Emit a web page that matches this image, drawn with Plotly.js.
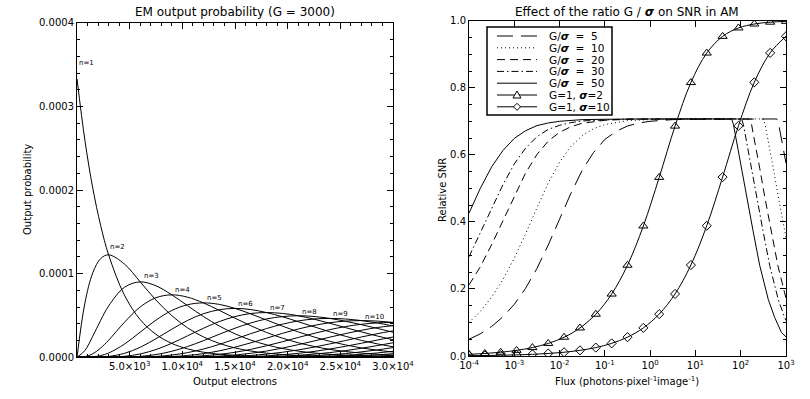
<!DOCTYPE html>
<html>
<head>
<meta charset="utf-8">
<script src="https://cdn.plot.ly/plotly-3.0.1.min.js"></script>
<style>
  html, body { margin: 0; padding: 0; background: #fff; }
  #chart { width: 810px; height: 399px; }
</style>
</head>
<body>
<div id="chart"></div>
<script>
// ---------------- LEFT PANEL DATA: EM output probability (G = 3000) ----------------
// Output electrons sampled along the x axis
const outputElectrons = [0,750,1500,2250,3000,4500,6000,7500,9000,10500,12000,13500,15000,16500,18000,19500,21000,22500,24000,25500,27000,28500,30000];
// Output probability of each curve, in units of 1e-4
const PROB_UNIT = 1e-4;
const prob_n1  = [3.333,2.596,2.022,1.575,1.226,0.744,0.451,0.274,0.166,0.101,0.061,0.037,0.022,0.014,0.008,0.005,0.003,0.002,0.001,0.001,0,0,0];
const prob_n2  = [0,0.649,1.011,1.181,1.226,1.116,0.902,0.684,0.498,0.352,0.244,0.167,0.112,0.075,0.050,0.033,0.021,0.014,0.009,0.006,0.004,0.002,0.002];
const prob_n3  = [0,0.081,0.253,0.443,0.613,0.837,0.902,0.855,0.747,0.617,0.488,0.375,0.281,0.206,0.149,0.106,0.074,0.052,0.036,0.025,0.017,0.011,0.008];
const prob_n4  = [0,0.007,0.042,0.111,0.204,0.418,0.602,0.713,0.747,0.719,0.651,0.562,0.468,0.378,0.297,0.229,0.174,0.130,0.095,0.069,0.050,0.036,0.025];
const prob_n5  = [0,0,0.005,0.021,0.051,0.157,0.301,0.445,0.560,0.629,0.651,0.633,0.585,0.519,0.446,0.373,0.304,0.243,0.191,0.148,0.112,0.085,0.063];
const prob_n6  = [0,0,0.001,0.003,0.010,0.047,0.120,0.223,0.336,0.441,0.521,0.569,0.585,0.571,0.535,0.485,0.426,0.365,0.305,0.251,0.202,0.161,0.126];
const prob_n7  = [0,0,0,0,0.002,0.012,0.040,0.093,0.168,0.257,0.347,0.427,0.487,0.524,0.535,0.525,0.497,0.456,0.407,0.355,0.304,0.255,0.210];
const prob_n8  = [0,0,0,0,0,0.003,0.011,0.033,0.072,0.129,0.199,0.275,0.348,0.411,0.459,0.487,0.497,0.488,0.465,0.431,0.390,0.346,0.300];
const prob_n9  = [0,0,0,0,0,0,0.003,0.010,0.027,0.056,0.099,0.154,0.218,0.283,0.344,0.396,0.435,0.458,0.465,0.458,0.439,0.411,0.375];
const prob_n10 = [0,0,0,0,0,0,0.001,0.003,0.009,0.022,0.044,0.077,0.121,0.173,0.229,0.286,0.338,0.381,0.414,0.433,0.439,0.433,0.417];
const prob_n11 = [0,0,0,0,0,0,0,0.001,0.003,0.008,0.018,0.035,0.060,0.095,0.138,0.186,0.237,0.286,0.331,0.368,0.395,0.412,0.417];
const prob_n12 = [0,0,0,0,0,0,0,0,0.001,0.002,0.006,0.014,0.027,0.048,0.075,0.110,0.151,0.195,0.241,0.284,0.323,0.356,0.379];
const prob_n13 = [0,0,0,0,0,0,0,0,0,0.001,0.002,0.005,0.011,0.022,0.038,0.060,0.088,0.122,0.160,0.201,0.243,0.282,0.316];
const prob_n14 = [0,0,0,0,0,0,0,0,0,0,0.001,0.002,0.004,0.009,0.017,0.030,0.047,0.070,0.099,0.132,0.168,0.206,0.243];
const prob_n15 = [0,0,0,0,0,0,0,0,0,0,0,0.001,0.002,0.004,0.007,0.014,0.024,0.038,0.056,0.080,0.108,0.140,0.174];
const prob_n16 = [0,0,0,0,0,0,0,0,0,0,0,0,0.001,0.001,0.003,0.006,0.011,0.019,0.030,0.045,0.065,0.088,0.116];
const prob_n17 = [0,0,0,0,0,0,0,0,0,0,0,0,0,0,0.001,0.002,0.005,0.009,0.015,0.024,0.036,0.052,0.072];
const prob_n18 = [0,0,0,0,0,0,0,0,0,0,0,0,0,0,0,0.001,0.002,0.004,0.007,0.012,0.019,0.029,0.043];
const prob_n19 = [0,0,0,0,0,0,0,0,0,0,0,0,0,0,0,0,0.001,0.002,0.003,0.006,0.010,0.015,0.024];
const prob_n20 = [0,0,0,0,0,0,0,0,0,0,0,0,0,0,0,0,0,0.001,0.001,0.003,0.005,0.008,0.012];
const probCurves = [prob_n1,prob_n2,prob_n3,prob_n4,prob_n5,prob_n6,prob_n7,prob_n8,prob_n9,prob_n10,
                    prob_n11,prob_n12,prob_n13,prob_n14,prob_n15,prob_n16,prob_n17,prob_n18,prob_n19,prob_n20];
// curve labels
const curveLabels = ['n=1','n=2','n=3','n=4','n=5','n=6','n=7','n=8','n=9','n=10'];
const curveLabelX = [900,3800,7030,10020,13050,16020,19040,22030,25060,28200];
const curveLabelY = [3.52,1.32,0.972,0.805,0.706,0.638,0.586,0.545,0.518,0.486];
const leftXTickVals = [5000,10000,15000,20000,25000,30000];
const leftXTickText = ['5.0\u00d710<sup>3</sup>','1.0\u00d710<sup>4</sup>','1.5\u00d710<sup>4</sup>','2.0\u00d710<sup>4</sup>','2.5\u00d710<sup>4</sup>','3.0\u00d710<sup>4</sup>'];

// ---------------- RIGHT PANEL DATA: relative SNR vs flux ----------------
// flux given as log10(photons/pixel/image)
const logFlux_r5  = [-4,-3.75,-3.5,-3.25,-3,-2.75,-2.5,-2.25,-2,-1.75,-1.5,-1.25,-1,-0.75,-0.5,-0.25,0,0.5,1,2.80,2.84,2.88,2.95,3.0];
const snr_r5      = [0.050,0.066,0.088,0.117,0.154,0.202,0.261,0.331,0.408,0.485,0.554,0.607,0.646,0.670,0.686,0.695,0.700,0.705,0.706,0.707,0.690,0.660,0.612,0.575];
const logFlux_r10 = [-4,-3.75,-3.5,-3.25,-3,-2.75,-2.5,-2.25,-2,-1.75,-1.5,-1.25,-1,-0.75,-0.5,0,0.5,1,2.50,2.54,2.58,2.65,2.72,2.83,2.97,3.0];
const snr_r10     = [0.100,0.133,0.176,0.228,0.292,0.364,0.442,0.516,0.578,0.625,0.657,0.678,0.690,0.697,0.702,0.705,0.707,0.707,0.707,0.690,0.660,0.612,0.560,0.475,0.375,0.353];
const logFlux_r20 = [-4,-3.75,-3.5,-3.25,-3,-2.75,-2.5,-2.25,-2,-1.75,-1.5,-1.25,-1,-0.5,0,1,2.20,2.24,2.28,2.35,2.42,2.53,2.67,2.82,3.0];
const snr_r20     = [0.212,0.266,0.332,0.404,0.478,0.546,0.601,0.641,0.667,0.684,0.694,0.699,0.703,0.706,0.707,0.707,0.707,0.690,0.660,0.612,0.560,0.475,0.375,0.270,0.172];
const logFlux_r30 = [-4,-3.75,-3.5,-3.25,-3,-2.75,-2.5,-2.25,-2,-1.75,-1.5,-1,-0.5,0,1,2.02,2.06,2.10,2.17,2.24,2.35,2.49,2.64,2.83,2.97,3.0];
const snr_r30     = [0.296,0.366,0.440,0.511,0.573,0.620,0.654,0.676,0.688,0.696,0.701,0.705,0.707,0.707,0.707,0.707,0.690,0.660,0.612,0.560,0.475,0.375,0.270,0.168,0.115,0.106];
const logFlux_r50 = [-4,-3.75,-3.5,-3.25,-3,-2.75,-2.5,-2.25,-2,-1.5,-1,-0.5,0,1,1.80,1.84,1.88,1.95,2.02,2.13,2.27,2.42,2.61,2.75,2.90,3.0];
const snr_r50     = [0.426,0.500,0.564,0.613,0.649,0.672,0.687,0.695,0.700,0.705,0.706,0.707,0.707,0.707,0.707,0.690,0.660,0.612,0.560,0.475,0.375,0.270,0.168,0.115,0.070,0.057];
// G=1 curves (marked points)
const logFlux_g1 = [-4,-3.65,-3.3,-2.95,-2.6,-2.25,-1.9,-1.55,-1.2,-0.85,-0.5,-0.15,0.2,0.55,0.9,1.25,1.6,1.95,2.3,2.65,3.0];
const snr_g1_s2  = [0.0050,0.0075,0.0112,0.0168,0.0251,0.0375,0.0560,0.0836,0.1246,0.1847,0.2707,0.3878,0.5327,0.6856,0.8155,0.9035,0.9533,0.9783,0.9901,0.9956,0.9980];
const snr_g1_s10 = [0.0010,0.0015,0.0022,0.0034,0.0050,0.0075,0.0112,0.0168,0.0251,0.0376,0.0562,0.0838,0.1249,0.1851,0.2713,0.3885,0.5336,0.6865,0.8162,0.9039,0.9535];
const legendLabels = ['G/<b><i>\u03c3</i></b>\u00a0\u00a0=\u00a0\u00a05','G/<b><i>\u03c3</i></b>\u00a0\u00a0=\u00a0\u00a010','G/<b><i>\u03c3</i></b>\u00a0\u00a0=\u00a0\u00a020','G/<b><i>\u03c3</i></b>\u00a0\u00a0=\u00a0\u00a030','G/<b><i>\u03c3</i></b>\u00a0\u00a0=\u00a0\u00a050','G=1,\u00a0<b><i>\u03c3</i></b>=2','G=1,\u00a0<b><i>\u03c3</i></b>=10'];
const rightXTickVals = [1e-4,1e-3,1e-2,1e-1,1,10,100,1000];
const rightXTickText = ['10<sup>-4</sup>','10<sup>-3</sup>','10<sup>-2</sup>','10<sup>-1</sup>','10<sup>0</sup>','10<sup>1</sup>','10<sup>2</sup>','10<sup>3</sup>'];

// ---------------- BUILD ----------------
const FONT = 'DejaVu Sans, Liberation Sans, Arial, sans-serif';
const W = 810, H = 399;
const px = v => v / W;          // pixel -> paper x
const py = v => 1 - v / H;      // pixel -> paper y
const toFlux = arr => arr.map(v => Math.pow(10, v));

const traces = [];
probCurves.forEach(curve => {
  traces.push({
    type: 'scatter', mode: 'lines', xaxis: 'x', yaxis: 'y',
    x: outputElectrons, y: curve.map(v => v * PROB_UNIT),
    line: {color: '#000', width: 1, shape: 'spline', smoothing: 1},
    hoverinfo: 'skip'
  });
});

const emStyles = [
  {x: logFlux_r5,  y: snr_r5,  dash: '16px,8px'},
  {x: logFlux_r10, y: snr_r10, dash: '1px,3px'},
  {x: logFlux_r20, y: snr_r20, dash: '8px,5px'},
  {x: logFlux_r30, y: snr_r30, dash: '7px,3px,1.5px,3px'},
  {x: logFlux_r50, y: snr_r50, dash: 'solid'}
];
emStyles.forEach(s => {
  traces.push({
    type: 'scatter', mode: 'lines', xaxis: 'x2', yaxis: 'y2',
    x: toFlux(s.x), y: s.y,
    line: {color: '#000', width: 1, dash: s.dash},
    hoverinfo: 'skip'
  });
});
traces.push({
  type: 'scatter', mode: 'lines+markers', xaxis: 'x2', yaxis: 'y2',
  x: toFlux(logFlux_g1), y: snr_g1_s2,
  line: {color: '#000', width: 1, shape: 'spline'},
  marker: {symbol: 'triangle-up-open', size: 8, color: '#000', line: {width: 1, color: '#000'}},
  hoverinfo: 'skip'
});
traces.push({
  type: 'scatter', mode: 'lines+markers', xaxis: 'x2', yaxis: 'y2',
  x: toFlux(logFlux_g1), y: snr_g1_s10,
  line: {color: '#000', width: 1, shape: 'spline'},
  marker: {symbol: 'diamond-open', size: 7, color: '#000', line: {width: 1, color: '#000'}},
  hoverinfo: 'skip'
});

const axisBase = {
  showline: true, linecolor: '#000', linewidth: 1, mirror: 'allticks',
  ticks: 'inside', ticklen: 6, tickwidth: 1, tickcolor: '#000',
  showgrid: false, zeroline: false,
  tickfont: {family: FONT, size: 10, color: '#000'}
};
const minorBase = {ticks: 'inside', ticklen: 3, tickwidth: 1, tickcolor: '#000', showgrid: false};

const annotations = [];
curveLabels.forEach((t, i) => {
  annotations.push({xref: 'x', yref: 'y', x: curveLabelX[i], y: curveLabelY[i] * PROB_UNIT,
    text: t, showarrow: false, font: {family: FONT, size: 7, color: '#000'}, xanchor: 'center', yanchor: 'middle'});
});
const txt = (x, y, text, size, opts) => Object.assign({xref: 'paper', yref: 'paper', x: px(x), y: py(y), text: text,
  showarrow: false, font: {family: FONT, size: size, color: '#000'}, xanchor: 'center', yanchor: 'middle'}, opts || {});
annotations.push(txt(235, 12, 'EM output probability (G = 3000)', 12));
annotations.push(txt(627, 12, 'Effect of the ratio G / <b><i>\u03c3</i></b> on SNR in AM', 12));
annotations.push(txt(235, 381, 'Output electrons', 10));
annotations.push(txt(627, 381, 'Flux (photons\u00b7pixel<sup>-1</sup>image<sup>-1</sup>)', 10));
annotations.push(txt(27, 190, 'Output probability', 10, {textangle: -90}));
annotations.push(txt(442, 190, 'Relative SNR', 10, {textangle: -90}));

// manual legend (right panel)
const legTop = 36, legStep = 11.8, legX0 = 497, legX1 = 537, legTxt = 547;
const shapes = [{type: 'rect', xref: 'paper', yref: 'paper', x0: px(487), x1: px(612), y0: py(27), y1: py(115),
  line: {color: '#000', width: 1.5}, fillcolor: '#fff', layer: 'above'}];
const legDashes = ['16px,8px', '1px,3px', '8px,5px', '7px,3px,1.5px,3px', 'solid', 'solid', 'solid'];
legendLabels.forEach((lab, i) => {
  const yy = legTop + i * legStep;
  shapes.push({type: 'line', xref: 'paper', yref: 'paper', x0: px(legX0), x1: px(legX1), y0: py(yy), y1: py(yy),
    line: {color: '#000', width: 1, dash: legDashes[i]}, layer: 'above'});
  annotations.push(txt(legTxt, yy, lab, 10.5, {xanchor: 'left'}));
});
const midX = (legX0 + legX1) / 2;
shapes.push({type: 'path', xref: 'paper', yref: 'paper', xsizemode: 'pixel', ysizemode: 'pixel',
  xanchor: px(midX), yanchor: py(legTop + 5 * legStep), path: 'M-4,-3L4,-3L0,4Z',
  line: {color: '#000', width: 1}, fillcolor: '#fff', layer: 'above'});
shapes.push({type: 'path', xref: 'paper', yref: 'paper', xsizemode: 'pixel', ysizemode: 'pixel',
  xanchor: px(midX), yanchor: py(legTop + 6 * legStep), path: 'M-3.5,0L0,3.5L3.5,0L0,-3.5Z',
  line: {color: '#000', width: 1}, fillcolor: '#fff', layer: 'above'});

const layout = {
  width: W, height: H,
  margin: {l: 0, r: 0, t: 0, b: 0, pad: 0},
  paper_bgcolor: '#fff', plot_bgcolor: '#fff',
  showlegend: false,
  font: {family: FONT, color: '#000'},
  xaxis: Object.assign({}, axisBase, {
    domain: [px(77), px(393)], anchor: 'y', range: [0, 30000],
    tickmode: 'array', tickvals: leftXTickVals, ticktext: leftXTickText,
    minor: Object.assign({}, minorBase, {dtick: 1000, tick0: 0})
  }),
  yaxis: Object.assign({}, axisBase, {
    domain: [py(357.3), py(22.9)], anchor: 'x', range: [0, 0.0004],
    tickmode: 'linear', tick0: 0, dtick: 0.0001, tickformat: '.4f',
    minor: Object.assign({}, minorBase, {dtick: 0.00002, tick0: 0})
  }),
  xaxis2: Object.assign({}, axisBase, {
    domain: [px(469), px(786)], anchor: 'y2', type: 'log', range: [-4, 3],
    tickmode: 'array', tickvals: rightXTickVals, ticktext: rightXTickText
  }),
  yaxis2: Object.assign({}, axisBase, {
    domain: [py(356), py(20.7)], anchor: 'x2', range: [0, 1],
    tickmode: 'linear', tick0: 0, dtick: 0.2, tickformat: '.1f',
    minor: Object.assign({}, minorBase, {dtick: 0.05, tick0: 0})
  }),
  annotations: annotations,
  shapes: shapes
};

Plotly.newPlot('chart', traces, layout, {staticPlot: true, displayModeBar: false});
</script>
</body>
</html>
